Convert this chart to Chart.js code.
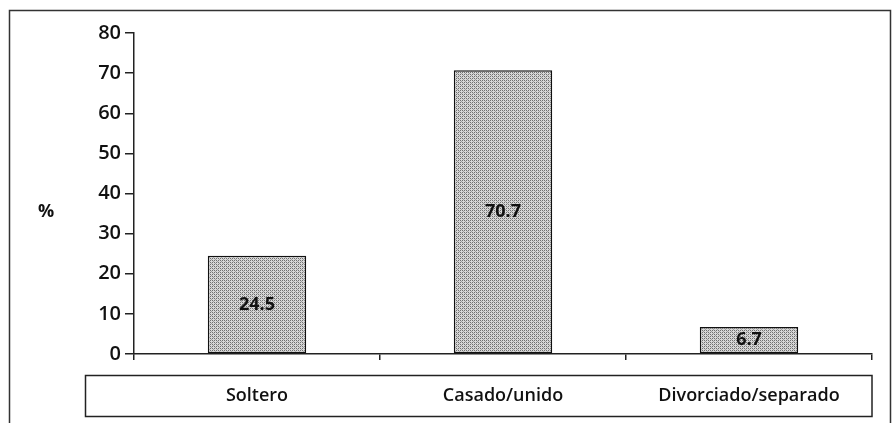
<!DOCTYPE html>
<html>
<head>
<meta charset="utf-8">
<script src="https://cdn.jsdelivr.net/npm/chart.js@4"></script>
<style>
  html, body { margin: 0; padding: 0; background: #fff; }
  #wrap { width: 892px; height: 423px; }
</style>
</head>
<body>
<div id="wrap"><canvas id="chart" width="892" height="423"></canvas></div>
<script>
const categories = ['Soltero', 'Casado/unido', 'Divorciado/separado'];
const values = [24.5, 70.7, 6.7];
const valueLabels = ['24.5', '70.7', '6.7'];
const yTicks = [0, 10, 20, 30, 40, 50, 60, 70, 80];

const FONT = '"Open Sans", Lato, sans-serif';

// stippled gray fill like the print
function makePattern(){
    const p = document.createElement('canvas');
    p.width = 4; p.height = 4;
    const c = p.getContext('2d');
    c.fillStyle = '#d8d8d8';
    c.fillRect(0, 0, 4, 4);
    c.fillStyle = '#707070';
    c.fillRect(0, 0, 1, 1);
    c.fillRect(2, 2, 1, 1);
    c.fillRect(2, 0, 1, 1);
    c.fillRect(0, 2, 1, 1);
    c.fillStyle = '#a0a0a0';
    c.fillRect(1, 1, 1, 1);
    c.fillRect(3, 3, 1, 1);
    return document.getElementById('chart').getContext('2d').createPattern(p, 'repeat');
}

const framePlugin = {
    id: 'frame',
    beforeDraw: (chart) => {
        const {ctx} = chart;
        ctx.save();
        ctx.strokeStyle = '#333';
        ctx.lineWidth = 1.5;
        ctx.beginPath();
        ctx.moveTo(9.5, 423);
        ctx.lineTo(9.5, 10.5);
        ctx.lineTo(890.5, 10.5);
        ctx.lineTo(890.5, 423);
        ctx.stroke();
        ctx.restore();
    },
    afterDraw: (chart) => {
        const {ctx} = chart;
        const x = chart.scales.x;
        ctx.save();
        // box around category labels
        ctx.strokeStyle = '#222';
        ctx.lineWidth = 1.5;
        ctx.strokeRect(85.5, 375.5, x.right - 85.5, 41);
        // "%" label
        ctx.fillStyle = '#111';
        ctx.font = 'bold 18px ' + FONT;
        ctx.textAlign = 'center';
        ctx.textBaseline = 'middle';
        ctx.fillText('%', 46, 212);
        // values inside bars
        ctx.font = 'bold 18px ' + FONT;
        const meta = chart.getDatasetMeta(0);
        meta.data.forEach((bar, i) => {
            ctx.fillText(valueLabels[i], bar.x, (bar.y + bar.base) / 2);
        });
        ctx.restore();
    }
};

new Chart(document.getElementById('chart'), {
    type: 'bar',
    data: {
        labels: categories,
        datasets: [{
            data: values,
            backgroundColor: makePattern(),
            borderColor: '#111',
            borderWidth: 1.5,
            borderSkipped: false,
            categoryPercentage: 1,
            barPercentage: 0.4
        }]
    },
    options: {
        responsive: false,
        animation: false,
        layout: { padding: { top: 33, right: 20, bottom: 0, left: 0 } },
        plugins: { legend: { display: false }, tooltip: { enabled: false } },
        scales: {
            y: {
                min: 0, max: 80,
                afterBuildTicks: (s) => { s.ticks = yTicks.map(v => ({value: v})); },
                afterFit: (s) => { s.width = 134; },
                border: { display: true, color: '#222', width: 1.5 },
                grid: { drawOnChartArea: false, tickLength: 9, color: '#222', lineWidth: 1.5 },
                ticks: { color: '#111', padding: 4, font: { family: FONT, size: 20, weight: '600' } }
            },
            x: {
                afterFit: (s) => { s.height = 423 - 354; },
                border: { display: true, color: '#222', width: 1.5 },
                grid: { offset: true, drawOnChartArea: false, tickLength: 6, color: '#222', lineWidth: 1.5 },
                ticks: { color: '#111', padding: 25, font: { family: FONT, size: 18, weight: '600' } }
            }
        }
    },
    plugins: [framePlugin]
});
</script>
</body>
</html>
